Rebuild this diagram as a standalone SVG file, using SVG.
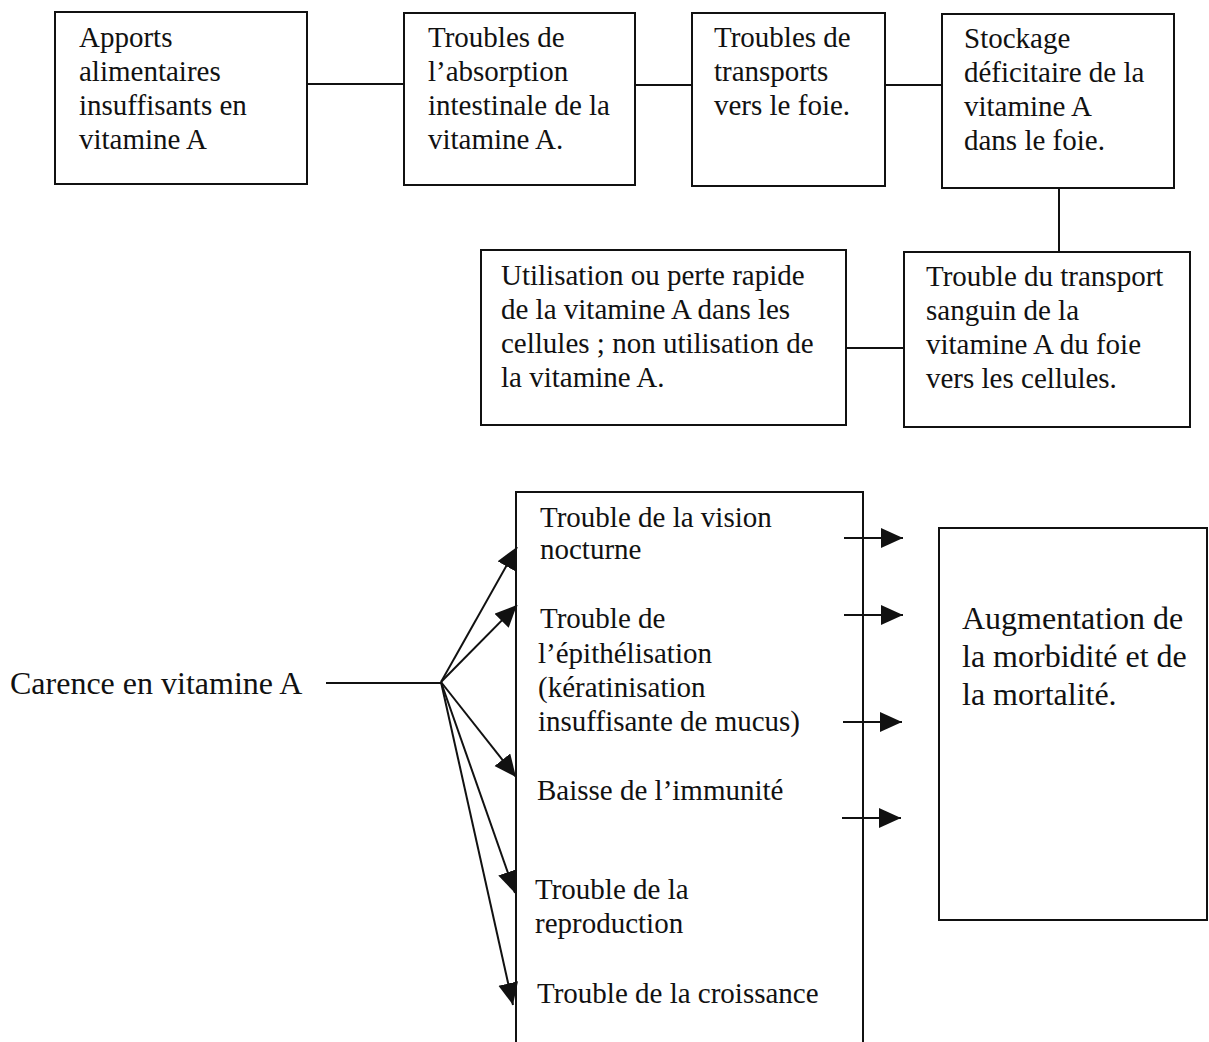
<svg xmlns="http://www.w3.org/2000/svg" width="1209" height="1042" viewBox="0 0 1209 1042" font-family="'Liberation Serif','Times New Roman',Times,serif">
<style>
.box{fill:#fff;stroke:#111;stroke-width:2}
.ln{fill:none;stroke:#111;stroke-width:2}
text{font-family:"Liberation Serif","Times New Roman",Times,serif;font-size:29px;fill:#111}
.big{font-size:32px}
</style>
<defs>
<marker id="ah" markerUnits="userSpaceOnUse" markerWidth="24" markerHeight="22" refX="22" refY="10" orient="auto">
<path d="M0,0 L22,10 L0,20 Z" fill="#111"/>
</marker>
</defs>
<rect width="1209" height="1042" fill="#fff"/>
<g id="connectors">
<line class="ln" x1="307" y1="84" x2="404" y2="84"/>
<line class="ln" x1="635" y1="85" x2="692" y2="85"/>
<line class="ln" x1="885" y1="85" x2="942" y2="85"/>
<line class="ln" x1="1059" y1="188" x2="1059" y2="252"/>
<line class="ln" x1="846" y1="348" x2="904" y2="348"/>
<line class="ln" x1="326" y1="683" x2="441" y2="683"/>
<line class="ln" x1="441" y1="682" x2="517" y2="547" marker-end="url(#ah)"/>
<line class="ln" x1="441" y1="682" x2="517" y2="605" marker-end="url(#ah)"/>
<line class="ln" x1="441" y1="682" x2="516" y2="777" marker-end="url(#ah)"/>
<line class="ln" x1="441" y1="682" x2="515" y2="893" marker-end="url(#ah)"/>
<line class="ln" x1="441" y1="682" x2="513" y2="1005" marker-end="url(#ah)"/>
<line class="ln" x1="844" y1="538" x2="903" y2="538" marker-end="url(#ah)"/>
<line class="ln" x1="844" y1="615" x2="903" y2="615" marker-end="url(#ah)"/>
<line class="ln" x1="843" y1="722" x2="902" y2="722" marker-end="url(#ah)"/>
<line class="ln" x1="842" y1="818" x2="901" y2="818" marker-end="url(#ah)"/>
</g>
<g id="n1">
<rect class="box" x="55" y="12" width="252" height="172"/>
<text x="79" y="47">Apports</text>
<text x="79" y="81">alimentaires</text>
<text x="79" y="115">insuffisants en</text>
<text x="79" y="149">vitamine A</text>
</g>
<g id="n2">
<rect class="box" x="404" y="13" width="231" height="172"/>
<text x="428" y="47">Troubles de</text>
<text x="428" y="81">l’absorption</text>
<text x="428" y="115">intestinale de la</text>
<text x="428" y="149">vitamine A.</text>
</g>
<g id="n3">
<rect class="box" x="692" y="13" width="193" height="173"/>
<text x="714" y="47">Troubles de</text>
<text x="714" y="81">transports</text>
<text x="714" y="115">vers le foie.</text>
</g>
<g id="n4">
<rect class="box" x="942" y="14" width="232" height="174"/>
<text x="964" y="48">Stockage</text>
<text x="964" y="82">déficitaire de la</text>
<text x="964" y="116">vitamine A</text>
<text x="964" y="150">dans le foie.</text>
</g>
<g id="n5">
<rect class="box" x="904" y="252" width="286" height="175"/>
<text x="926" y="286">Trouble du transport</text>
<text x="926" y="320">sanguin de la</text>
<text x="926" y="354">vitamine A du foie</text>
<text x="926" y="388">vers les cellules.</text>
</g>
<g id="n6">
<rect class="box" x="481" y="250" width="365" height="175"/>
<text x="501" y="285">Utilisation ou perte rapide</text>
<text x="501" y="319">de la vitamine A dans les</text>
<text x="501" y="353">cellules ; non utilisation de</text>
<text x="501" y="387">la vitamine A.</text>
</g>
<g id="n7">
<text class="big" x="10" y="694">Carence en vitamine A</text>
</g>
<g id="n8">
<path class="ln" d="M516,1044 V492 H863 V1044"/>
<text x="540" y="527">Trouble de la vision</text>
<text x="540" y="559">nocturne</text>
<text x="540" y="628">Trouble de</text>
<text x="538" y="663">l’épithélisation</text>
<text x="538" y="697">(kératinisation</text>
<text x="538" y="731">insuffisante de mucus)</text>
<text x="537" y="800">Baisse de l’immunité</text>
<text x="535" y="899">Trouble de la</text>
<text x="535" y="933">reproduction</text>
<text x="537" y="1003">Trouble de la croissance</text>
</g>
<g id="n9">
<rect class="box" x="939" y="528" width="268" height="392"/>
<text class="big" x="962" y="629">Augmentation de</text>
<text class="big" x="962" y="667">la morbidité et de</text>
<text class="big" x="962" y="705">la mortalité.</text>
</g>
</svg>
